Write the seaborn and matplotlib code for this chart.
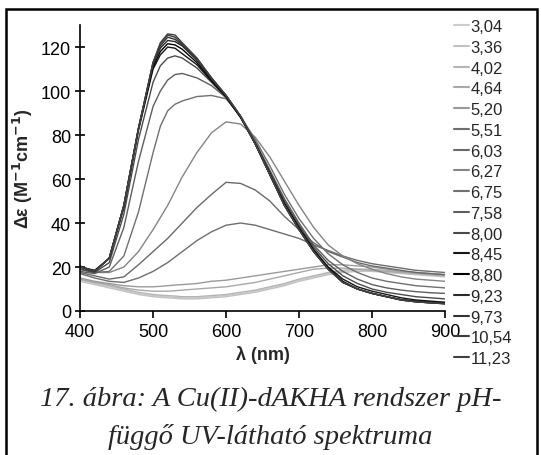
import matplotlib
matplotlib.use("Agg")
import matplotlib.pyplot as plt
import seaborn as sns
import pandas as pd
from matplotlib.patches import Rectangle

sns.set_theme(style="white")
plt.rcParams['font.family'] = ['Liberation Sans', 'DejaVu Sans']

wavelength = [400, 420, 440, 460, 480, 500, 510, 520, 530, 540, 560, 580, 600, 620,
              640, 660, 680, 700, 720, 740, 760, 780, 800, 820, 840, 860, 880, 900]

ph_labels = ["3,04", "3,36", "4,02", "4,64", "5,20", "5,51", "6,03", "6,27", "6,75",
             "7,58", "8,00", "8,45", "8,80", "9,23", "9,73", "10,54", "11,23"]

ph_3_04 = [14, 12.5, 11, 9.5, 8, 7, 6.7, 6.5, 6.2, 6, 6, 6.5, 7, 8, 9, 10.5, 12, 14, 15.5, 17, 18, 18.5, 18.5, 18, 17.5, 17, 16.5, 16]
ph_3_36 = [13.5, 12, 10.5, 9, 7.5, 6.5, 6.2, 6, 5.8, 5.5, 5.5, 6, 6.5, 7.5, 8.5, 10, 11.5, 13.5, 15, 16.5, 17.5, 18, 18, 17.5, 17, 16.5, 16, 15.5]
ph_4_02 = [14.5, 13, 11.5, 10, 8.5, 7.5, 7.2, 7, 6.8, 6.5, 6.5, 7, 7.5, 8.5, 9.5, 11, 12.5, 14.5, 16, 17.5, 18.5, 19, 19, 18.5, 18, 17.5, 17, 16.5]
ph_4_64 = [14.5, 13, 12, 10.5, 9.5, 9, 9, 9, 9.2, 9.5, 10, 10.5, 11, 12, 13, 14.5, 16, 17.5, 19, 19.5, 19.5, 19, 18.5, 18, 17.5, 17, 16.5, 16]
ph_5_20 = [15, 13.5, 12.5, 11.5, 11, 11, 11.2, 11.5, 11.8, 12, 12.5, 13.5, 14, 15, 16, 17, 18, 19, 20, 21, 21, 20.5, 20, 19, 18, 17.5, 17, 16.5]
ph_5_51 = [17, 15, 13.5, 13, 15, 18, 20, 22, 24.5, 27, 32, 36, 39, 40, 39, 37, 35, 33, 30, 27.5, 25, 23, 21.5, 20.5, 19.5, 18.5, 18, 17.5]
ph_6_03 = [17.5, 16, 14.5, 15.5, 21, 27, 30, 33, 36.5, 40, 47, 53, 58.5, 58, 55, 50, 43, 37, 31, 27, 24.5, 22, 20.5, 19.5, 18.5, 17.5, 17, 16.5]
ph_6_27 = [19, 17.5, 17.5, 20, 27, 37, 42.5, 48, 54.5, 61, 72, 81, 86, 85, 79, 70, 59, 48, 38, 30, 25, 21.5, 19, 17, 15.5, 14.5, 14, 13.5]
ph_6_75 = [19, 17.5, 18, 25, 45, 72, 84, 91, 94, 95.5, 97.5, 98, 96.5, 88.5, 78, 66, 53, 42, 33, 26, 21, 17.5, 15, 13.5, 12.5, 11.5, 11, 10.5]
ph_7_58 = [18, 17, 20, 38, 68, 93, 100, 105, 107.5, 108, 106, 102.5, 97, 88.5, 77, 64, 51, 40, 30, 23, 18, 14.5, 12, 10.5, 9.5, 8.8, 8.3, 8]
ph_8_00 = [19, 17.5, 22, 44, 78, 104, 111.5, 115, 116, 115, 110.5, 104, 97, 88, 76.5, 63.5, 50, 39, 29, 21.5, 16, 12.5, 10, 8.5, 7.5, 6.5, 6, 5.5]
ph_8_45 = [20, 18.5, 24, 47, 82, 110, 116.5, 120, 119.5, 117, 112, 104.5, 97.5, 88, 76, 62.5, 49, 38, 28, 20, 14.5, 11, 9, 7.5, 6, 5, 4.5, 4]
ph_8_80 = [20, 18, 24, 48, 83, 111, 118, 121.5, 121, 119, 113, 105, 97.5, 88, 76, 62, 48.5, 37.5, 27.5, 19.5, 13.5, 10, 8, 6.5, 5.2, 4.5, 4, 3.6]
ph_9_23 = [20, 18, 24, 48, 83, 112, 119.5, 123, 122.5, 120.5, 114, 105.5, 98, 88.5, 76, 62, 48, 37, 27, 19, 13, 10, 8, 6.5, 5, 4.2, 3.8, 3.4]
ph_9_73 = [20.5, 18, 24, 48, 83, 113, 120.5, 124.5, 123.5, 121, 114.5, 106, 98, 88.5, 76, 62, 48, 37, 27, 19, 13, 10, 8, 6.5, 5, 4.2, 3.7, 3.3]
ph_10_54 = [20, 18, 24, 48, 83, 113, 121.5, 125.5, 124.5, 121.5, 115, 106, 98, 88.5, 76, 62, 48, 37, 27, 19, 13, 10, 8, 6.5, 5, 4.2, 3.7, 3.3]
ph_11_23 = [20, 18, 24, 48, 83, 113, 122, 126, 125.5, 122, 115, 106, 98, 88.5, 76, 62, 48, 37, 27, 19, 13, 10, 8, 6.5, 5, 4.2, 3.7, 3.3]

series = [ph_3_04, ph_3_36, ph_4_02, ph_4_64, ph_5_20, ph_5_51, ph_6_03, ph_6_27, ph_6_75,
          ph_7_58, ph_8_00, ph_8_45, ph_8_80, ph_9_23, ph_9_73, ph_10_54, ph_11_23]

colors = ["#cccccc", "#c2c2c2", "#b5b5b5", "#a8a8a8", "#9a9a9a", "#6e6e6e", "#6a6a6a",
          "#858585", "#707070", "#5e5e5e", "#4a4a4a", "#151515", "#000000", "#2a2a2a",
          "#333333", "#3a3a3a", "#404040"]

rows = []
for lab, vals in zip(ph_labels, series):
    for w, v in zip(wavelength, vals):
        rows.append({"pH": lab, "wl": w, "eps": v})
df = pd.DataFrame(rows)

fig = plt.figure(figsize=(5.41, 4.56), dpi=100)
ax = fig.add_axes([0.148, 0.3158, 0.6746, 0.627])

sns.lineplot(data=df, x="wl", y="eps", hue="pH", hue_order=ph_labels,
             palette=dict(zip(ph_labels, colors)), estimator=None, sort=False,
             linewidth=1.0, ax=ax, legend=True)

ax.set_xlim(400, 900)
ax.set_ylim(0, 130)
ax.set_xticks([400, 500, 600, 700, 800, 900])
ax.set_yticks([0, 20, 40, 60, 80, 100, 120])
for s in ["top", "right"]:
    ax.spines[s].set_visible(False)
for s in ["left", "bottom"]:
    ax.spines[s].set_color("black")
    ax.spines[s].set_linewidth(1.2)
ax.tick_params(axis="y", direction="inout", length=7, width=1.2, colors="black",
               labelsize=13, pad=3, left=True)
ax.tick_params(axis="x", direction="out", length=5, width=1.2, colors="black",
               labelsize=13, pad=4, bottom=True)
ax.set_xlabel("λ (nm)", fontsize=13, fontweight="bold", labelpad=3)
ax.set_ylabel("Δε (M$^{\\mathbf{-1}}$cm$^{\\mathbf{-1}}$)", fontsize=13, fontweight="bold", labelpad=4)

handles, labels = ax.get_legend_handles_labels()
ax.get_legend().remove()
leg = fig.legend(handles, labels, loc="upper left", bbox_to_anchor=(0.84, 0.956),
                 frameon=False, fontsize=12, handlelength=0.9, handletextpad=0.05,
                 labelspacing=0.345, borderpad=0, borderaxespad=0)
for h in leg.get_lines():
    h.set_linewidth(1.5)

fig.text(0.5, 0.123, "17. ábra: A Cu(II)-dAKHA rendszer pH-", ha="center", va="center",
         fontsize=20.5, style="italic", family=["Liberation Serif", "DejaVu Serif"])
fig.text(0.5, 0.042, "függő UV-látható spektruma", ha="center", va="center",
         fontsize=20.5, style="italic", family=["Liberation Serif", "DejaVu Serif"])

fig.patches.append(Rectangle((6 / 541, -0.05), 531 / 541, 1 - 10 / 456 + 0.05,
                             transform=fig.transFigure, fill=False, edgecolor="black",
                             linewidth=1.8))

fig.savefig("out.png", dpi=100)
